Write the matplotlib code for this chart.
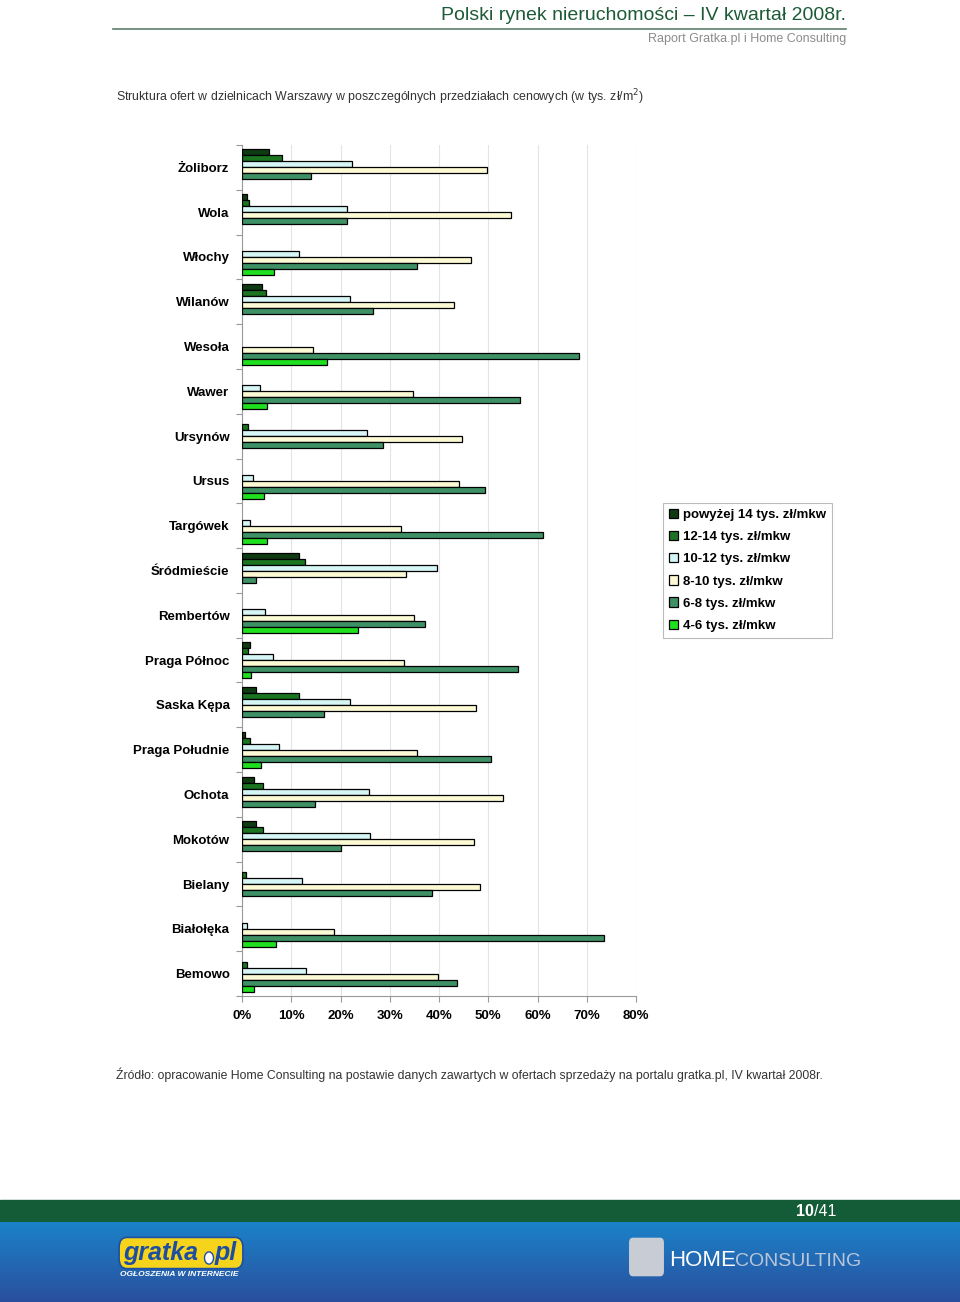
import numpy as np
import matplotlib
matplotlib.use("Agg")
import matplotlib.pyplot as plt
from matplotlib.patches import Rectangle, FancyBboxPatch, Circle
from matplotlib.ticker import FixedLocator, PercentFormatter

districts = ["Żoliborz", "Wola", "Włochy", "Wilanów", "Wesoła", "Wawer", "Ursynów",
             "Ursus", "Targówek", "Śródmieście", "Rembertów", "Praga Północ",
             "Saska Kępa", "Praga Południe", "Ochota", "Mokotów", "Bielany",
             "Białołęka", "Bemowo"]

series_names = ["powyżej 14 tys. zł/mkw", "12-14 tys. zł/mkw", "10-12 tys. zł/mkw",
                "8-10 tys. zł/mkw", "6-8 tys. zł/mkw", "4-6 tys. zł/mkw"]

# shares of offers (%) per district, one list per price range
above_14 = [5.5, 1.0, 0, 4.1, 0, 0, 0, 0, 0, 11.5, 0, 1.7, 2.8, 0.7, 2.4, 2.8, 0, 0, 0]
r12_14 = [8.2, 1.4, 0, 4.8, 0, 0, 1.2, 0, 0, 12.8, 0, 1.2, 11.5, 1.7, 4.3, 4.3, 0.8, 0, 1.0]
r10_12 = [22.4, 21.4, 11.5, 22.0, 0, 3.6, 25.3, 2.2, 1.6, 39.6, 4.7, 6.2, 21.9, 7.6, 25.7, 26.0, 12.2, 1.0, 12.9]
r8_10 = [49.8, 54.6, 46.5, 43.0, 14.5, 34.8, 44.6, 44.1, 32.2, 33.2, 35.0, 32.9, 47.5, 35.6, 53.0, 47.2, 48.4, 18.6, 39.8]
r6_8 = [14.1, 21.4, 35.6, 26.5, 68.5, 56.5, 28.7, 49.4, 61.1, 2.8, 37.2, 56.1, 16.7, 50.6, 14.8, 20.0, 38.6, 73.6, 43.6]
r4_6 = [0, 0, 6.4, 0, 17.2, 5.0, 0, 4.5, 5.0, 0, 23.5, 1.9, 0, 3.9, 0, 0, 0, 7.0, 2.5]

colors = ["#0f3b12", "#1b7420", "#d6f5f5", "#fbfad4", "#3e9165", "#1fe01f"]

fig = plt.figure(figsize=(9.6, 13.02), dpi=100)
W, H = 960, 1302

def fx(px):
    return px / W

def fy(py):
    return 1 - py / H

sans = ["Liberation Sans", "DejaVu Sans"]

# header
fig.text(fx(846), fy(15), "Polski rynek nieruchomości – IV kwartał 2008r.", ha="right", va="center",
         fontsize=14, color="#1d5a36", family=sans)
fig.add_artist(plt.Line2D([fx(113), fx(846)], [fy(29), fy(29)], color="#5c7f6c", lw=1.2))
fig.text(fx(846), fy(39), "Raport Gratka.pl i Home Consulting", ha="right", va="center",
         fontsize=9, color="#8c8c8c", family=sans)
fig.text(fx(116), fy(97), "Struktura ofert w dzielnicach Warszawy w poszczególnych przedziałach cenowych (w tys. zł/m$^2$)",
         ha="left", va="center", fontsize=8.9, color="#333333", family=sans)
fig.text(fx(116), fy(1075), "Źródło: opracowanie Home Consulting na postawie danych zawartych w ofertach sprzedaży na portalu gratka.pl, IV kwartał 2008r.",
         ha="left", va="center", fontsize=8.8, color="#333333", family=sans)

# chart
ax = fig.add_axes([fx(242), fy(996), fx(636) - fx(242), fy(145) - fy(996)])
all_series = [above_14, r12_14, r10_12, r8_10, r6_8, r4_6]
bar_h = 0.134
y = np.arange(len(districts))
handles = []
for k, (vals, name, col) in enumerate(zip(all_series, series_names, colors)):
    vals = np.array(vals, dtype=float)
    pos = y - 0.4 + bar_h * (k + 0.5)
    keep = vals > 0
    ax.barh(pos[keep], vals[keep], height=bar_h, color=col, edgecolor="black", linewidth=0.9,
            zorder=3)
    handles.append(Rectangle((0, 0), 1, 1, fc=col, ec="black", lw=0.9))

ax.set_xlim(0, 80)
ax.set_ylim(len(districts) - 0.5, -0.5)
ax.xaxis.set_major_locator(FixedLocator(np.arange(0, 81, 10)))
ax.xaxis.set_major_formatter(PercentFormatter(decimals=0))
ax.set_yticks(y)
ax.set_yticklabels(districts)
ax.yaxis.set_minor_locator(FixedLocator(np.arange(-0.5, len(districts), 1)))
ax.tick_params(axis="y", which="major", length=0, pad=9)
ax.tick_params(axis="y", which="minor", length=4, color="#999999", width=0.8)
ax.tick_params(axis="x", length=4, color="#999999", width=0.8, pad=6)
for lab in ax.get_yticklabels() + ax.get_xticklabels():
    lab.set_fontweight("bold")
    lab.set_fontfamily("Liberation Sans")
    lab.set_fontsize(9.5)
ax.grid(axis="x", color="#e4e4e4", lw=0.8, zorder=0)
for s in ["top", "right"]:
    ax.spines[s].set_visible(False)
ax.spines["left"].set_color("#999999")
ax.spines["bottom"].set_color("#999999")

leg = fig.legend(handles, series_names, loc="upper left", bbox_to_anchor=(fx(663), fy(503)),
                 borderaxespad=0, frameon=True, fancybox=False, edgecolor="#aaaaaa",
                 handlelength=0.7, handleheight=0.7, handletextpad=0.4, labelspacing=0.75,
                 borderpad=0.45,
                 prop={"family": "Liberation Sans", "weight": "bold", "size": 9.5})
leg.get_frame().set_linewidth(0.8)

# footer bands
fig.add_artist(Rectangle((0, fy(1222)), 1, fy(1200) - fy(1222), transform=fig.transFigure,
                         color="#135c37", zorder=0))
grad = np.linspace(0, 1, 100).reshape(-1, 1)
gax = fig.add_axes([0, 0, 1, fy(1222)], zorder=0)
gax.imshow(grad, aspect="auto", cmap=matplotlib.colors.LinearSegmentedColormap.from_list(
    "b", ["#1b82c8", "#2a4f9e"]), extent=(0, 1, 0, 1))
gax.axis("off")
fig.text(fx(814), fy(1212), "10", ha="right", va="center", fontsize=11.5, color="white",
         fontweight="bold", family=sans)
fig.text(fx(814), fy(1212), "/41", ha="left", va="center", fontsize=11.5, color="white",
         family=sans)

# gratka.pl badge
fig.add_artist(FancyBboxPatch((fx(121), fy(1266)), fx(120), fy(1240) - fy(1266),
                              boxstyle="round,pad=0.002,rounding_size=0.008",
                              transform=fig.transFigure, fc="#f7d41c", ec="#1d4ea0", lw=1.2,
                              zorder=2))
fig.text(fx(123), fy(1253), "gratka", ha="left", va="center", fontsize=18, color="#1d4ea0",
         fontweight="bold", style="italic", family=sans, zorder=3)
fig.add_artist(Circle((fx(209), fy(1258)), 4.5 / W, transform=fig.transFigure, fc="white",
                      ec="#1d4ea0", lw=1, zorder=3))
fig.text(fx(215), fy(1253), "pl", ha="left", va="center", fontsize=18, color="#1d4ea0",
         fontweight="bold", style="italic", family=sans, zorder=3)
fig.text(fx(120), fy(1274), "OGŁOSZENIA W INTERNECIE", ha="left", va="center", fontsize=6,
         color="white", fontweight="bold", style="italic", family=sans)

# home consulting logo
fig.add_artist(FancyBboxPatch((fx(630), fy(1275)), fx(33), fy(1239) - fy(1275),
                              boxstyle="round,pad=0.001,rounding_size=0.004",
                              transform=fig.transFigure, fc="#c8ccd4", ec="none", zorder=2))
fig.text(fx(669), fy(1266), "HOME", ha="left", va="baseline", fontsize=16, color="white",
         family=sans)
fig.text(fx(735), fy(1266), "CONSULTING", ha="left", va="baseline", fontsize=14, color="#b9c6da",
         family=sans)

fig.savefig("out.png", dpi=100)
